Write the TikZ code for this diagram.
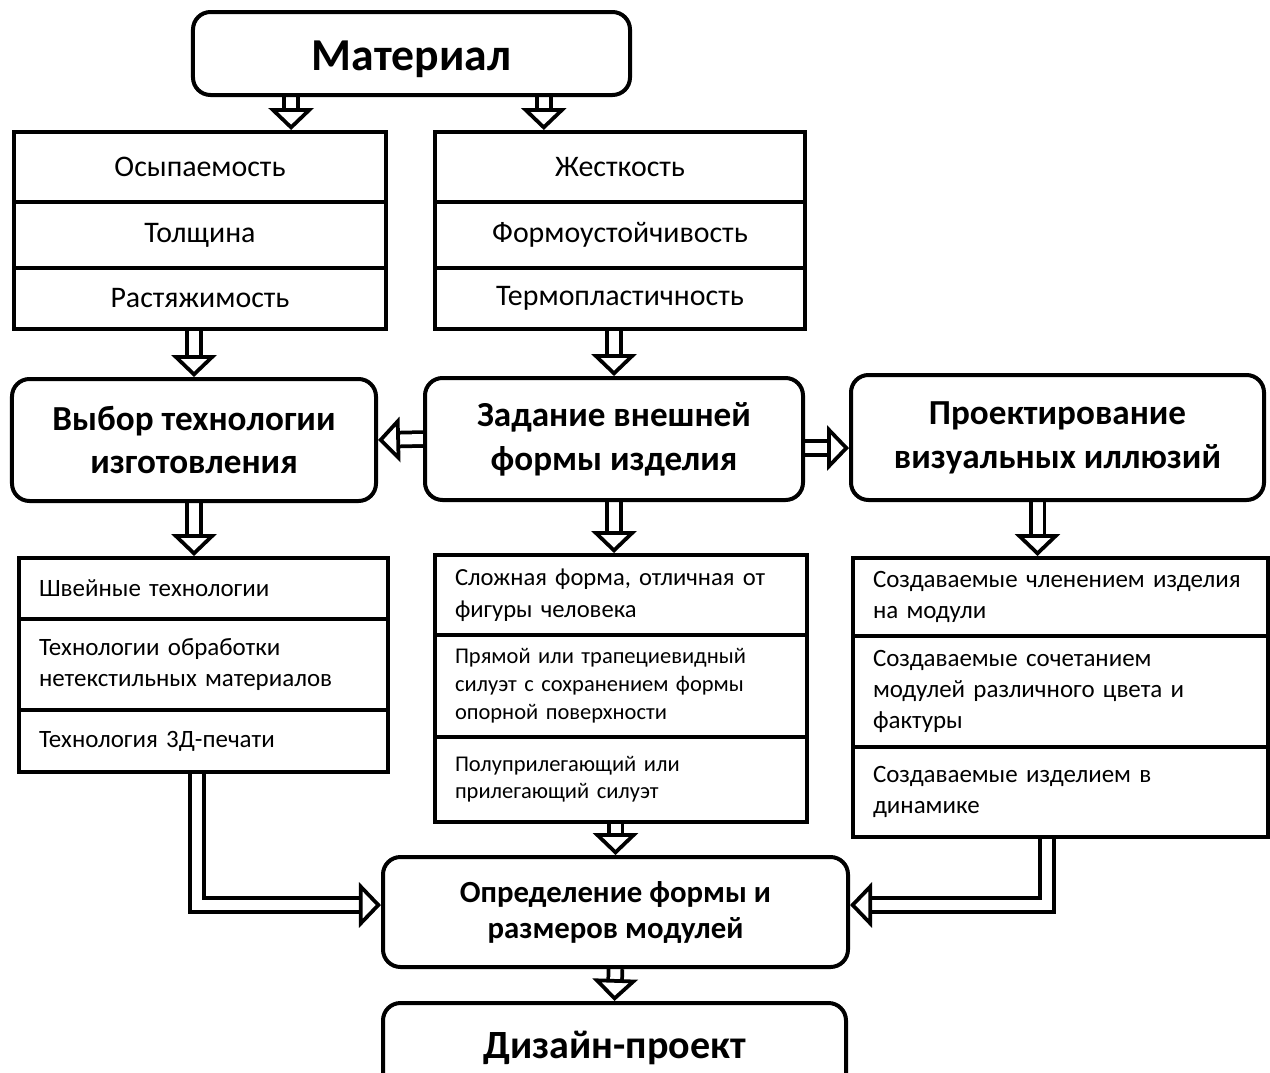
\documentclass[tikz,border=0pt]{standalone}
\usepackage{fontspec}
\setmainfont{Carlito}
\usetikzlibrary{arrows.meta,calc,backgrounds}

\tikzset{
  rbox/.style={draw, line width=0.8mm, rounded corners=3.5mm, align=center, inner sep=0pt},
  stage/.style={rbox, font=\bfseries\fontsize{20}{25}\selectfont},
  cell/.style={draw, line width=0.8mm, anchor=north west, inner sep=0pt, font=\fontsize{17}{21}\selectfont},
  lcell/.style={draw, line width=0.8mm, anchor=north west, align=left, inner xsep=4mm, inner ysep=0pt},
  dbl/.style={double, double distance=2mm, line width=0.75mm, -{Triangle[open, length=4.4mm, width=9mm]}},
}

\begin{document}
\begin{tikzpicture}[x=0.2mm, y=-0.2mm]
  \useasboundingbox (0,0) rectangle (1270,1072);
  \clip (0,0) rectangle (1270,1072);
  % top
  \node[rbox, minimum width=87.4mm, minimum height=16.6mm, text height=6.6mm, text depth=0pt, font=\bfseries\fontsize{26}{30}\selectfont] (mat) at (411.5,53.5) {Материал};
  % properties
  \node[cell, minimum width=74.4mm, minimum height=14mm] (osyp) at (12,130) {Осыпаемость};
  \node[cell, minimum width=74.4mm, minimum height=13.2mm] (tolsh) at (12,200) {Толщина};
  \node[cell, minimum width=74.4mm, minimum height=12.2mm] (rast) at (12,266) {Растяжимость};
  \node[cell, minimum width=74mm, minimum height=14mm] (zhest) at (433,130) {Жесткость};
  \node[cell, minimum width=74mm, minimum height=13.2mm] (formust) at (433,200) {Формоустойчивость};
  \node[cell, minimum width=74mm, minimum height=12.2mm] (termo) at (433,266) {Термопластичность};
  % main stages
  \node[stage, minimum width=72.8mm, minimum height=24.4mm] (tech) at (194,440) {Выбор технологии\\изготовления};
  \node[stage, minimum width=75.6mm, minimum height=24.4mm] (form) at (614,439) {Задание внешней\\формы изделия};
  \node[stage, minimum width=82.6mm, minimum height=25mm] (illus) at (1057.5,437.5) {Проектирование\\визуальных иллюзий};
  % technologies
  \node[lcell, minimum height=12.2mm, text width=65.8mm, font=\fontsize{14.2}{17.5}\selectfont] (shv) at (17,556) {Швейные технологии};
  \node[lcell, minimum height=18.2mm, text width=65.8mm, font=\fontsize{14.2}{17.5}\selectfont] (netex) at (17,617) {Технологии обработки\\нетекстильных материалов};
  \node[lcell, minimum height=12.4mm, text width=65.8mm, font=\fontsize{14.2}{17.5}\selectfont] (print) at (17,708) {Технология 3Д-печати};
  % silhouettes
  \node[lcell, minimum height=16mm, text width=66.4mm, font=\fontsize{14}{18}\selectfont] (slozh) at (433,553) {Сложная форма, отличная от\\фигуры человека};
  \node[lcell, minimum height=20.4mm, text width=66.4mm, font=\fontsize{12.8}{16}\selectfont] (pryam) at (433,633) {Прямой или трапециевидный\\силуэт с сохранением формы\\опорной поверхности};
  \node[lcell, minimum height=17mm, text width=66.4mm, font=\fontsize{12.8}{15.5}\selectfont] (polu) at (433,735) {Полуприлегающий или\\прилегающий силуэт};
  % illusions
  \node[lcell, minimum height=15.6mm, text width=75mm, font=\fontsize{14.2}{17.5}\selectfont] (sozd) at (851,556) {Создаваемые членением изделия\\на модули};
  \node[lcell, minimum height=22.2mm, text width=75mm, font=\fontsize{14.2}{17.5}\selectfont] (sochet) at (851,634) {Создаваемые сочетанием\\модулей различного цвета и\\фактуры};
  \node[lcell, minimum height=18mm, text width=75mm, font=\fontsize{14.2}{17.5}\selectfont] (din) at (851,745) {Создаваемые изделием в\\динамике};
  % result
  \node[rbox, minimum width=93mm, minimum height=22mm, font=\bfseries\fontsize{17.5}{20.5}\selectfont] (opred) at (615.5,912) {Определение формы и\\размеров модулей};
  \node[rbox, minimum width=92.6mm, minimum height=18mm, font=\bfseries\fontsize{22.8}{27}\selectfont] (design) at (614.5,1048) {Дизайн-проект};
  % arrows
  \begin{scope}[on background layer]
    \coordinate (m1) at ($(mat.south west)!.227!(mat.south east)$);
    \coordinate (m2) at ($(mat.south west)!.80!(mat.south east)$);
    \draw[dbl] (m1) -- (m1 |- osyp.north);
    \draw[dbl] (m2) -- (m2 |- zhest.north);
    \draw[dbl] (tech.north |- rast.south) -- (tech.north);
    \draw[dbl] (form.north |- termo.south) -- (form.north);
    \draw[dbl] (form.west) -- (tech.east);
    \draw[dbl] ([yshift=-1.8mm]form.east) -- ([yshift=-1.8mm]form.east -| illus.west);
    \draw[dbl] (tech.south) -- (tech.south |- shv.north);
    \draw[dbl] (form.south) -- (form.south |- slozh.north);
    \draw[dbl] ([xshift=-4mm]illus.south) -- ([xshift=-4mm]illus.south |- sozd.north);
    \draw[dbl] ([xshift=-1.3mm]print.south) |- ([yshift=1.4mm]opred.west);
    \draw[dbl] (opred.north |- polu.south) -- (opred.north);
    \draw[dbl] ([xshift=-2.7mm]din.south) |- ([yshift=1.4mm]opred.east);
    \draw[dbl] (opred.south) -- (design.north);
  \end{scope}
\end{tikzpicture}
\end{document}
